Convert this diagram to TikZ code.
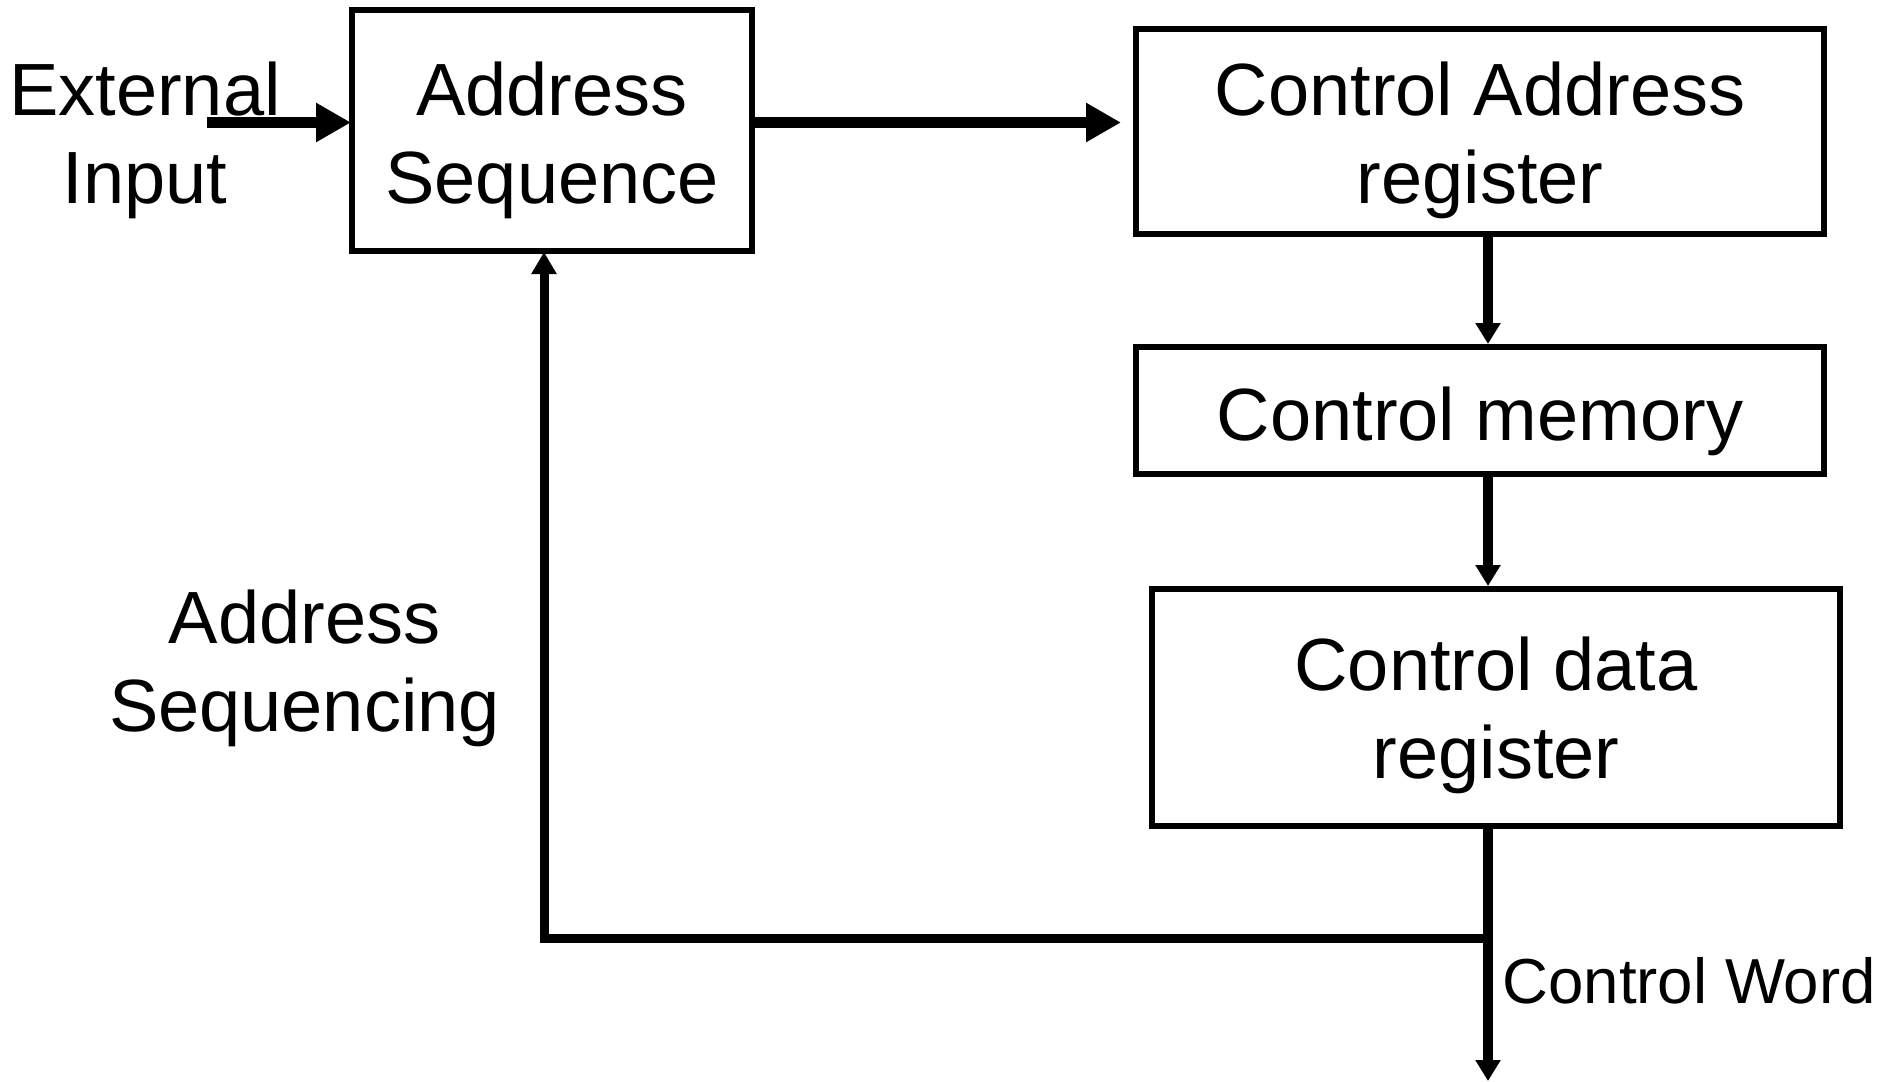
\documentclass[tikz,border=0pt]{standalone}
\usepackage{fontspec}
\setmainfont{Liberation Sans}
\usetikzlibrary{arrows.meta,calc}
\tikzset{
  box/.style={draw, line width=3pt, inner sep=0pt, align=center, minimum width=344pt,
    font=\fontsize{37pt}{44pt}\selectfont},
  label/.style={inner sep=0pt, align=center, font=\fontsize{37pt}{44pt}\selectfont},
  harrow/.style={line width=5.5pt, -{Triangle[length=17.5pt,width=18.5pt]}},
  varrow/.style={line width=4.75pt, -{Triangle[length=10.5pt,width=12pt]}},
  fbarrow/.style={line width=4.5pt, line join=miter, -{Triangle[length=11pt,width=12pt]}}
}
\begin{document}
\begin{tikzpicture}[x=0.5pt,y=-0.5pt]
\useasboundingbox (0,0) rectangle (1893,1081);
% boxes
\node[box, minimum width=200pt, minimum height=120.5pt] (AS) at (552,130.5)
  {\rule{0pt}{38.5pt}Address\\Sequence\rule[-10pt]{0pt}{10pt}};
\node[box, minimum height=102.5pt] (CAR) at (1480,131.5)
  {\rule{0pt}{37.5pt}Control Address\\register\rule[-10pt]{0pt}{10pt}};
\node[box, minimum height=63.5pt] (CM) at (1480,410.5)
  {\rule{0pt}{39.5pt}Control memory\rule[-10pt]{0pt}{10pt}};
\node[box, minimum height=118.5pt] (CDR) at (1496,707.5)
  {\rule{0pt}{36.5pt}Control data\\register\rule[-10pt]{0pt}{10pt}};
% free labels
\node[label] (ext) at (145,139) {\rule{0pt}{30pt}External\\Input\rule[-10pt]{0pt}{10pt}};
\node[label] (seq) at (304.5,667) {\rule{0pt}{30pt}Address\\Sequencing\rule[-10pt]{0pt}{10pt}};
\node[inner sep=0pt, anchor=base west, font=\fontsize{31.8pt}{38pt}\selectfont] (cw) at (1502,1003) {Control Word};
% helper coordinates
\coordinate (hA) at (0,122.5);
\coordinate (extstart) at (207,122.5);
\coordinate (col) at (1488,0);
\coordinate (out) at (1488,1081);
\coordinate (fb) at (544,938);
% connectors
\draw[harrow] (extstart) -- ($(extstart -| AS.west)+(2,0)$);
\draw[harrow] (AS.east |- hA) -- ($(CAR.west |- hA)+(-12,0)$);
\draw[varrow] (CAR.south -| col) -- (CM.north -| col);
\draw[varrow] (CM.south -| col) -- (CDR.north -| col);
\draw[varrow] (CDR.south -| col) -- (out);
\draw[fbarrow] (col |- fb) -- (fb) -- ($(AS.south -| fb)+(0,-2)$);
\end{tikzpicture}
\end{document}
